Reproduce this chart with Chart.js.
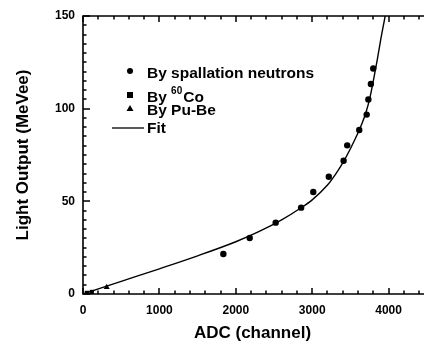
<!DOCTYPE html>
<html>
<head>
<meta charset="utf-8">
<script src="https://cdn.jsdelivr.net/npm/chart.js@4/dist/chart.umd.min.js"></script>
<style>
  html, body { margin: 0; padding: 0; background: #fff; overflow: hidden; }
</style>
</head>
<body>
<canvas id="lightChart" width="426" height="347"></canvas>
<script>
// data
const neutronAdc = [1837, 2182, 2522, 2855, 3014, 3217, 3411, 3458, 3616, 3713, 3735, 3768, 3799];
const neutronLight = [21.6, 30.2, 38.5, 46.6, 55.0, 63.3, 71.9, 80.2, 88.5, 96.8, 105.0, 113.3, 121.7];
const cobaltAdc = [50, 115];
const cobaltLight = [0.6, 1.1];
const pubeAdc = [310];
const pubeLight = [3.6];
const fitAdc = [0, 500, 1000, 1500, 2000, 2300, 2600, 2850, 3000, 3200, 3300, 3400, 3500, 3600, 3650, 3700, 3750, 3800, 3850, 3900, 3960];
const fitLight = [0, 6.8, 13.6, 20.6, 28.2, 33.6, 40.0, 46.4, 50.8, 58.8, 64.3, 70.8, 78.4, 87.0, 91.8, 97.5, 105.0, 115.0, 126.0, 138.0, 151.0];

const xTicks = [0, 1000, 2000, 3000, 4000];
const yTicks = [0, 50, 100, 150];
const legendLabels = ['By spallation neutrons', 'By ', '60', 'Co', 'By Pu-Be', 'Fit'];

const toPoints = (xs, ys) => xs.map((x, i) => ({ x: x, y: ys[i] }));
const FONT = '"Liberation Sans", Arial, Helvetica, sans-serif';

// frame with inward ticks, plus the in-plot legend
const framePlugin = {
    id: 'frame',
    afterDraw(chart) {
        const ctx = chart.ctx;
        const area = chart.chartArea;
        const xs = chart.scales.x, ys = chart.scales.y;
        ctx.save();
        ctx.strokeStyle = '#000';
        ctx.lineWidth = 1.6;
        ctx.beginPath();
        ctx.moveTo(area.right + 2, area.top);
        ctx.lineTo(area.left, area.top);
        ctx.lineTo(area.left, area.bottom);
        ctx.lineTo(area.right + 2, area.bottom);
        ctx.stroke();

        ctx.lineWidth = 1.5;
        ctx.beginPath();
        for (let v = 0; v <= xs.max; v += 200) {
            const px = Math.round(xs.getPixelForValue(v));
            const len = v % 1000 === 0 ? 6 : 3.5;
            ctx.moveTo(px, area.bottom); ctx.lineTo(px, area.bottom - len);
            ctx.moveTo(px, area.top); ctx.lineTo(px, area.top + len);
        }
        for (let v = 0; v <= ys.max; v += 5) {
            const py = Math.round(ys.getPixelForValue(v));
            const len = v % 50 === 0 ? 7 : 3.5;
            ctx.moveTo(area.left, py); ctx.lineTo(area.left + len, py);
        }
        ctx.stroke();

        // legend
        ctx.fillStyle = '#000';
        const mx = 130, tx = 147;
        ctx.beginPath(); ctx.arc(mx, 71, 3, 0, Math.PI * 2); ctx.fill();
        ctx.fillRect(mx - 3, 92, 6, 6);
        ctx.beginPath(); ctx.moveTo(mx, 105); ctx.lineTo(mx + 3.5, 111); ctx.lineTo(mx - 3.5, 111); ctx.closePath(); ctx.fill();
        ctx.lineWidth = 1.3;
        ctx.beginPath(); ctx.moveTo(112, 128); ctx.lineTo(144, 128); ctx.stroke();

        ctx.textBaseline = 'alphabetic';
        ctx.textAlign = 'left';
        const big = 'bold 15.5px ' + FONT;
        ctx.font = big;
        ctx.fillText(legendLabels[0], tx, 78);
        ctx.fillText(legendLabels[1], tx, 102);
        let w = ctx.measureText(legendLabels[1]).width;
        ctx.font = 'bold 10px ' + FONT;
        ctx.fillText(legendLabels[2], tx + w, 94);
        w += ctx.measureText(legendLabels[2]).width + 1;
        ctx.font = big;
        ctx.fillText(legendLabels[3], tx + w, 102);
        ctx.fillText(legendLabels[4], tx, 115);
        ctx.fillText(legendLabels[5], tx, 133);
        ctx.restore();
    }
};

new Chart(document.getElementById('lightChart'), {
    type: 'scatter',
    data: {
        datasets: [
            {
                label: 'Fit',
                data: toPoints(fitAdc, fitLight),
                showLine: true,
                borderColor: '#000',
                borderWidth: 1.4,
                pointRadius: 0,
                cubicInterpolationMode: 'monotone'
            },
            {
                label: 'By spallation neutrons',
                data: toPoints(neutronAdc, neutronLight),
                pointStyle: 'circle',
                pointRadius: 3.2,
                backgroundColor: '#000',
                borderColor: '#000',
                borderWidth: 0
            },
            {
                label: 'By 60Co',
                data: toPoints(cobaltAdc, cobaltLight),
                pointStyle: 'rect',
                pointRadius: 3,
                backgroundColor: '#000',
                borderColor: '#000',
                borderWidth: 0
            },
            {
                label: 'By Pu-Be',
                data: toPoints(pubeAdc, pubeLight),
                pointStyle: 'triangle',
                pointRadius: 3.5,
                backgroundColor: '#000',
                borderColor: '#000',
                borderWidth: 0
            }
        ]
    },
    options: {
        responsive: false,
        animation: false,
        events: [],
        layout: { padding: { top: 16, right: 0, bottom: 0, left: 0 } },
        plugins: {
            legend: { display: false },
            tooltip: { enabled: false }
        },
        scales: {
            x: {
                type: 'linear',
                min: 0,
                max: 4437,
                grid: { display: false, drawTicks: false },
                border: { display: false },
                afterBuildTicks: s => { s.ticks = xTicks.map(v => ({ value: v })); },
                afterFit: s => { s.height = 53; },
                ticks: {
                    color: '#000',
                    padding: 9,
                    maxRotation: 0,
                    callback: v => String(v),
                    font: { family: FONT, size: 12, weight: 'bold' }
                },
                title: {
                    display: true,
                    text: 'ADC (channel)',
                    color: '#000',
                    padding: { top: 0, bottom: 3 },
                    font: { family: FONT, size: 17, weight: 'bold' }
                }
            },
            y: {
                type: 'linear',
                min: 0,
                max: 150,
                grid: { display: false, drawTicks: false },
                border: { display: false },
                afterBuildTicks: s => { s.ticks = yTicks.map(v => ({ value: v })); },
                afterFit: s => { s.width = 83; },
                ticks: {
                    color: '#000',
                    padding: 8,
                    callback: v => String(v),
                    font: { family: FONT, size: 12, weight: 'bold' }
                },
                title: {
                    display: true,
                    text: 'Light Output (MeVee)',
                    color: '#000',
                    padding: { top: 13, bottom: 0 },
                    font: { family: FONT, size: 17, weight: 'bold' }
                }
            }
        }
    },
    plugins: [framePlugin]
});
</script>
</body>
</html>
